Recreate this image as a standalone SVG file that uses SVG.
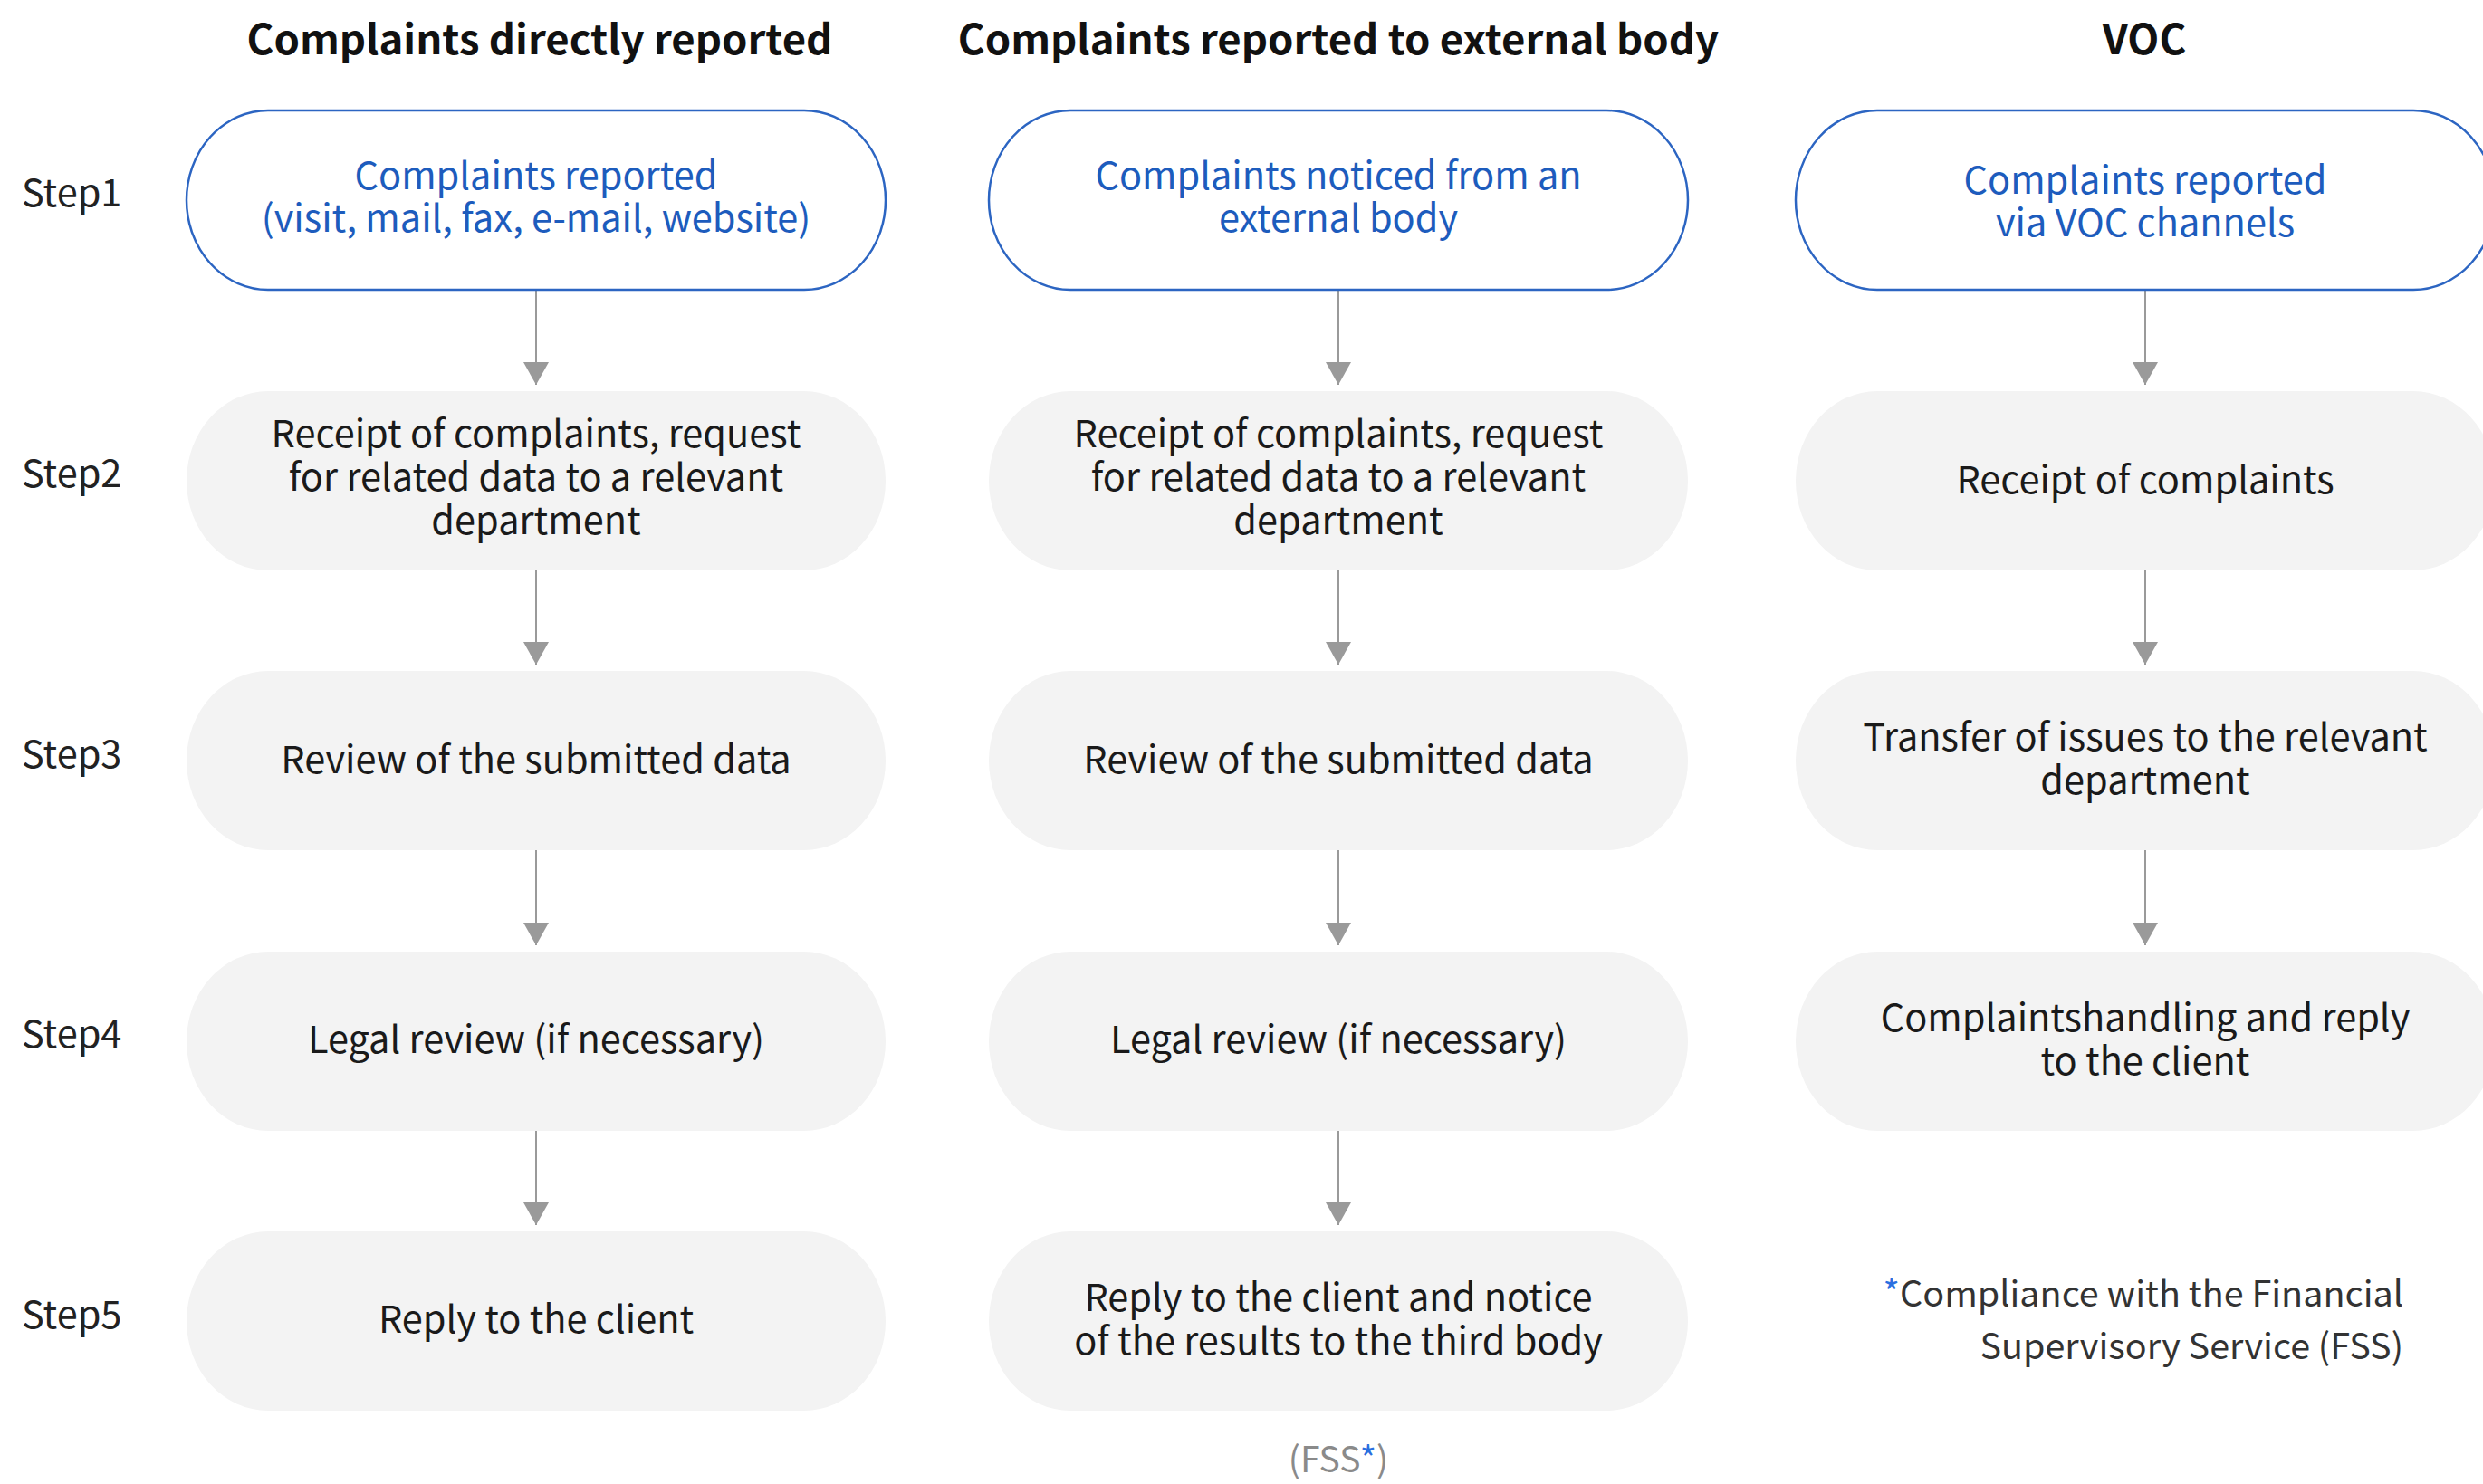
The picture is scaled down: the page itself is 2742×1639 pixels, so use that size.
<svg xmlns="http://www.w3.org/2000/svg" width="2742" height="1639" viewBox="0 0 2742 1639">
<style>
text{font-family:"Noto Sans CJK KR","Noto Sans",sans-serif;}
.title{font-size:45.5px;font-weight:700;fill:#111;text-anchor:middle;}
.step{font-size:41.5px;fill:#222;}
.start{fill:#fff;stroke:#2c65c2;stroke-width:2.5;}
.box{fill:#f3f3f3;}
.bt{font-size:41.5px;fill:#1a1a1a;text-anchor:middle;}
.blue{font-size:41.5px;fill:#1d5cbd;text-anchor:middle;}
.conn{stroke:#9a9a9a;stroke-width:2;fill:none;}
.note{font-size:39.5px;fill:#333;text-anchor:end;}
.ast{fill:#2a6fe0;}
.fss{font-size:39px;fill:#8a8a8a;text-anchor:middle;}
</style>
<defs>
<marker id="ah" viewBox="0 0 25 28" markerWidth="25" markerHeight="28" refX="25" refY="14" orient="auto" markerUnits="userSpaceOnUse">
<path d="M0,0 L25,14 L0,28 Z" fill="#9a9a9a"/>
</marker>
</defs>
<rect width="2742" height="1639" fill="#fff"/>

<g id="titles">
<text class="title" x="596" y="60">Complaints directly reported</text>
<text class="title" x="1478" y="60">Complaints reported to external body</text>
<text class="title" x="2368" y="60">VOC</text>
</g>

<g id="steps">
<text class="step" x="24" y="228">Step1</text>
<text class="step" x="24" y="538">Step2</text>
<text class="step" x="24" y="848">Step3</text>
<text class="step" x="24" y="1157">Step4</text>
<text class="step" x="24" y="1467">Step5</text>
</g>

<g id="connectors">
<path class="conn" marker-end="url(#ah)" d="M592,320 V425"/>
<path class="conn" marker-end="url(#ah)" d="M592,630 V734"/>
<path class="conn" marker-end="url(#ah)" d="M592,939 V1044"/>
<path class="conn" marker-end="url(#ah)" d="M592,1249 V1353"/>
<path class="conn" marker-end="url(#ah)" d="M1478,320 V425"/>
<path class="conn" marker-end="url(#ah)" d="M1478,630 V734"/>
<path class="conn" marker-end="url(#ah)" d="M1478,939 V1044"/>
<path class="conn" marker-end="url(#ah)" d="M1478,1249 V1353"/>
<path class="conn" marker-end="url(#ah)" d="M2369,320 V425"/>
<path class="conn" marker-end="url(#ah)" d="M2369,630 V734"/>
<path class="conn" marker-end="url(#ah)" d="M2369,939 V1044"/>
</g>

<g id="c1s1">
<rect class="start" x="206" y="122" width="772" height="198" rx="90" ry="99"/>
<text class="blue" x="592" y="209">Complaints reported</text>
<text class="blue" x="592" y="256">(visit, mail, fax, e-mail, website)</text>
</g>
<g id="c1s2">
<rect class="box" x="206" y="432" width="772" height="198" rx="90" ry="99"/>
<text class="bt" x="592" y="494">Receipt of complaints, request</text>
<text class="bt" x="592" y="542">for related data to a relevant</text>
<text class="bt" x="592" y="590">department</text>
</g>
<g id="c1s3">
<rect class="box" x="206" y="741" width="772" height="198" rx="90" ry="99"/>
<text class="bt" x="592" y="854">Review of the submitted data</text>
</g>
<g id="c1s4">
<rect class="box" x="206" y="1051" width="772" height="198" rx="90" ry="99"/>
<text class="bt" x="592" y="1163">Legal review (if necessary)</text>
</g>
<g id="c1s5">
<rect class="box" x="206" y="1360" width="772" height="198" rx="90" ry="99"/>
<text class="bt" x="592" y="1472">Reply to the client</text>
</g>

<g id="c2s1">
<rect class="start" x="1092" y="122" width="772" height="198" rx="90" ry="99"/>
<text class="blue" x="1478" y="209">Complaints noticed from an</text>
<text class="blue" x="1478" y="256">external body</text>
</g>
<g id="c2s2">
<rect class="box" x="1092" y="432" width="772" height="198" rx="90" ry="99"/>
<text class="bt" x="1478" y="494">Receipt of complaints, request</text>
<text class="bt" x="1478" y="542">for related data to a relevant</text>
<text class="bt" x="1478" y="590">department</text>
</g>
<g id="c2s3">
<rect class="box" x="1092" y="741" width="772" height="198" rx="90" ry="99"/>
<text class="bt" x="1478" y="854">Review of the submitted data</text>
</g>
<g id="c2s4">
<rect class="box" x="1092" y="1051" width="772" height="198" rx="90" ry="99"/>
<text class="bt" x="1478" y="1163">Legal review (if necessary)</text>
</g>
<g id="c2s5">
<rect class="box" x="1092" y="1360" width="772" height="198" rx="90" ry="99"/>
<text class="bt" x="1478" y="1448">Reply to the client and notice</text>
<text class="bt" x="1478" y="1496">of the results to the third body</text>
</g>
<g id="fss">
<text class="fss" x="1478" y="1626">(FSS<tspan class="ast">*</tspan>)</text>
</g>

<g id="c3s1">
<rect class="start" x="1983" y="122" width="772" height="198" rx="90" ry="99"/>
<text class="blue" x="2369" y="214">Complaints reported</text>
<text class="blue" x="2369" y="261">via VOC channels</text>
</g>
<g id="c3s2">
<rect class="box" x="1983" y="432" width="772" height="198" rx="90" ry="99"/>
<text class="bt" x="2369" y="545">Receipt of complaints</text>
</g>
<g id="c3s3">
<rect class="box" x="1983" y="741" width="772" height="198" rx="90" ry="99"/>
<text class="bt" x="2369" y="829">Transfer of issues to the relevant</text>
<text class="bt" x="2369" y="877">department</text>
</g>
<g id="c3s4">
<rect class="box" x="1983" y="1051" width="772" height="198" rx="90" ry="99"/>
<text class="bt" x="2369" y="1139">Complaintshandling and reply</text>
<text class="bt" x="2369" y="1187">to the client</text>
</g>
<g id="note">
<text class="note" x="2654" y="1443"><tspan class="ast">*</tspan>Compliance with the Financial</text>
<text class="note" x="2654" y="1501">Supervisory Service (FSS)</text>
</g>
</svg>
